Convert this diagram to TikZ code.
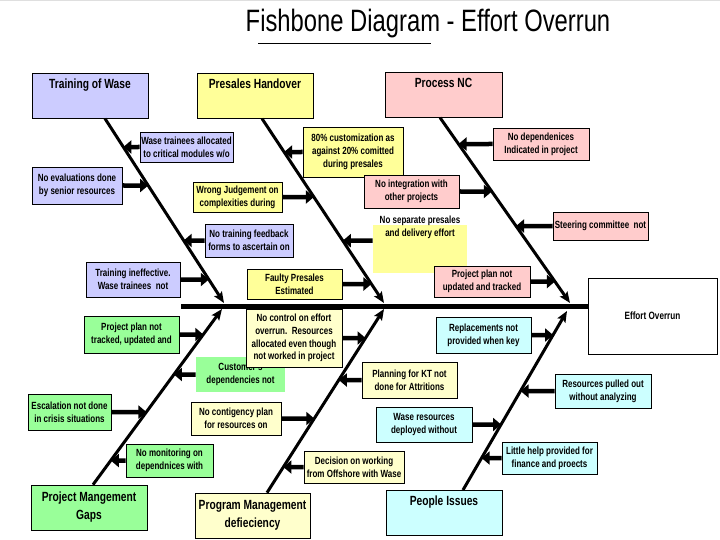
\documentclass[tikz,border=0pt]{standalone}
\usepackage{fontspec}
\setmainfont{Liberation Sans}[FakeStretch=0.77]
\usepackage{tikz}
\usetikzlibrary{calc}
\usetikzlibrary{arrows.meta}
\usetikzlibrary{positioning}
\definecolor{lav}{HTML}{CCCCFF}
\definecolor{yel}{HTML}{FFFF99}
\definecolor{pnk}{HTML}{FFCCCC}
\definecolor{grn}{HTML}{99FF99}
\definecolor{lyel}{HTML}{FFFFCC}
\definecolor{cyn}{HTML}{CCFFFF}
\tikzstyle{cause} = [draw=black, line width=0.6pt, align=center, inner sep=1pt, font=\fontsize{10.4}{12.8}\selectfont\bfseries]
\tikzstyle{cat} = [draw=black, line width=0.6pt, align=center, inner xsep=2pt, minimum width=116pt, font=\fontsize{13.3}{18}\selectfont\bfseries]
\tikzstyle{cattop} = [cat, anchor=north, inner ysep=5pt, text height=10pt, text depth=25pt]
\tikzstyle{bone} = [-{Stealth[length=11pt,width=9pt,inset=2pt]}, line width=3pt]
\tikzstyle{arr} = [-{Triangle[length=8pt,width=13pt]}, line width=4.5pt]

\begin{document}
\begin{tikzpicture}[x=1pt, y=-1pt]
\useasboundingbox (0,0) rectangle (720,540);
\fill[white] (0,0) rectangle (720,540);
\fill[gray!25] (0,0) rectangle (720,1.5);

\node [font=\fontsize{30.9}{36}\selectfont] (title) at (428,24) {Fishbone Diagram - Effort Overrun};
\draw [line width=0.8pt] (258,43) -- (431,43);

% categories
\node [cattop, fill=lav] (tw) at (90,73) {Training of Wase};
\node [cattop, fill=yel] (ph) at (255,73) {Presales Handover};
\node [cattop, fill=pnk, minimum width=117pt] (pnc) at (443.5,72) {Process NC};
\node [cat, fill=grn, minimum height=45pt] (pmg) at (89,507.5) {Project Mangement\\Gaps};
\node [cat, fill=lyel, minimum width=115pt, minimum height=45pt] (pgm) at (252.5,515.5) {Program Management\\defieciency};
\node [cattop, fill=cyn] (pi) at (444,490) {People Issues};
\node [draw=black, line width=0.6pt, minimum width=129pt, minimum height=76pt, font=\fontsize{10.6}{12}\selectfont\bfseries] (eo) at (652.5,316) {Effort Overrun};
\draw [line width=0.6pt] ($(eo.north east)+(2.5,0)$) -- ($(eo.south east)+(2.5,0)$);

% spine and bones
\coordinate (tail) at (181,306);
\draw [line width=5pt] (tail) -- (tail -| eo.west);
\coordinate (s1) at ($(tw.south)+(15,0)$);
\coordinate (s2) at ($(ph.south)+(7,0)$);
\coordinate (s3) at ($(pnc.south)+(-3.5,0)$);
\coordinate (s4) at ($(pmg.north)+(4,0)$);
\coordinate (s5) at ($(pgm.north)+(14.5,0)$);
\coordinate (s6) at ($(pi.north)+(19,0)$);
\coordinate (t1) at (224,303);
\coordinate (t2) at (384,303);
\coordinate (t3) at (570,303);
\coordinate (t4) at (222,309);
\coordinate (t5) at (384,309);
\coordinate (t6) at (567,311);
\foreach \i in {1,...,6}
  \draw [bone] (s\i) -- (t\i);

% causes
\node [cause, fill=lav, minimum width=93pt, minimum height=30pt] (wt) at (186.5,147) {Wase trainees allocated\\to critical modules w/o};
\node [cause, fill=lav, minimum width=90pt, minimum height=37pt] (ne) at (77,185.5) {No evaluations done\\by senior resources};
\node [cause, fill=lav, minimum width=88pt, minimum height=33pt] (ntf) at (249,240.5) {No training feedback\\forms to ascertain on};
\node [cause, fill=lav, minimum width=94pt, minimum height=35pt] (ti) at (133,279.5) {Training ineffective.\\Wase trainees\ \ not};
\node [cause, fill=yel, minimum width=100pt, minimum height=50pt] (cu) at (353,152) {80\% customization as\\against 20\% comitted\\during presales};
\node [cause, fill=yel, minimum width=89pt, minimum height=30pt] (wj) at (237.5,197) {Wrong Judgement on\\complexities during};
\node [cause, draw=none, fill=yel, minimum width=94pt, text height=8pt, text depth=33pt, inner ysep=3pt] (nsp) at (420,249) {No separate presales\\and delivery effort};
\node [cause, fill=yel, minimum width=95pt, minimum height=30pt] (fp) at (294.5,284) {Faulty Presales\\Estimated};
\node [cause, fill=pnk, minimum width=95pt, minimum height=33pt] (ni) at (411.5,191.5) {No integration with\\other projects};
\node [cause, fill=pnk, minimum width=96pt, minimum height=32pt] (nd) at (541,144) {No dependenices\\Indicated in project};
\node [cause, fill=pnk, minimum width=95pt, minimum height=28pt] (sc) at (600.5,226) {Steering committee\ \ not};
\node [cause, fill=pnk, minimum width=96pt, minimum height=31pt] (pp) at (482,281.5) {Project plan not\\updated and tracked};
\node [cause, fill=grn, minimum width=95pt, minimum height=37pt] (ppt) at (131.5,334.5) {Project plan not\\tracked, updated and};
\node [cause, draw=none, fill=grn, minimum width=89pt, minimum height=35pt] (cd) at (240.5,374.5) {Customer's\\dependencies not};
\node [cause, fill=lyel, minimum width=96pt, minimum height=58pt] (nc) at (294,338) {No control on effort\\overrun.\ \ Resources\\allocated even though\\not worked in project};
\node [cause, fill=grn, minimum width=83pt, minimum height=36pt] (esc) at (69.5,412) {Escalation not done\\in crisis situations};
\node [cause, fill=grn, minimum width=87pt, minimum height=33pt] (nm) at (169.5,460.5) {No monitoring on\\dependnices with};
\node [cause, fill=lyel, minimum width=95pt, minimum height=36pt] (pkt) at (409.5,380) {Planning for KT not\\done for Attritions};
\node [cause, fill=lyel, minimum width=90pt, minimum height=33pt] (ncp) at (236,418.5) {No contigency plan\\for resources on};
\node [cause, fill=lyel, minimum width=100pt, minimum height=32pt] (dec) at (354,467) {Decision on working\\from Offshore with Wase};
\node [cause, fill=cyn, minimum width=95pt, minimum height=36pt] (rep) at (483.5,335) {Replacements not\\provided when key};
\node [cause, fill=cyn, minimum width=96pt, minimum height=34pt] (rpo) at (603,391) {Resources pulled out\\without analyzing};
\node [cause, fill=cyn, minimum width=96pt, minimum height=35pt] (wr) at (424,424.5) {Wase resources\\deployed without};
\node [cause, fill=cyn, minimum width=95pt, minimum height=32pt] (lh) at (549.5,458) {Little help provided for\\finance and proects};

% cause arrows
\draw [arr] (wt.west) -- (intersection of wt.west--wt.east and s1--t1);
\draw [arr] (ne.east) -- (intersection of ne.west--ne.east and s1--t1);
\draw [arr] (ntf.west) -- (intersection of ntf.west--ntf.east and s1--t1);
\draw [arr] (ti.east) -- (intersection of ti.west--ti.east and s1--t1);
\draw [arr] (cu.west) -- (intersection of cu.west--cu.east and s2--t2);
\draw [arr] (wj.east) -- (intersection of wj.west--wj.east and s2--t2);
\draw [arr] (nsp.170) -- (intersection of nsp.170--nsp.10 and s2--t2);
\draw [arr] (fp.east) -- (intersection of fp.west--fp.east and s2--t2);
\draw [arr] (nd.west) -- (intersection of nd.west--nd.east and s3--t3);
\draw [arr] (ni.east) -- (intersection of ni.west--ni.east and s3--t3);
\draw [arr] (sc.west) -- (intersection of sc.west--sc.east and s3--t3);
\draw [arr] (pp.east) -- (intersection of pp.west--pp.east and s3--t3);
\draw [arr] (ppt.east) -- (intersection of ppt.west--ppt.east and s4--t4);
\draw [arr] (cd.west) -- (intersection of cd.west--cd.east and s4--t4);
\draw [arr] (esc.east) -- (intersection of esc.west--esc.east and s4--t4);
\draw [arr] (nm.west) -- (intersection of nm.west--nm.east and s4--t4);
\draw [arr] (nc.east) -- (intersection of nc.west--nc.east and s5--t5);
\draw [arr] (pkt.west) -- (intersection of pkt.west--pkt.east and s5--t5);
\draw [arr] (ncp.east) -- (intersection of ncp.west--ncp.east and s5--t5);
\draw [arr] (dec.west) -- (intersection of dec.west--dec.east and s5--t5);
\draw [arr] (rep.east) -- (intersection of rep.west--rep.east and s6--t6);
\draw [arr] (rpo.west) -- (intersection of rpo.west--rpo.east and s6--t6);
\draw [arr] (wr.east) -- (intersection of wr.west--wr.east and s6--t6);
\draw [arr] (lh.west) -- (intersection of lh.west--lh.east and s6--t6);
\end{tikzpicture}
\end{document}
